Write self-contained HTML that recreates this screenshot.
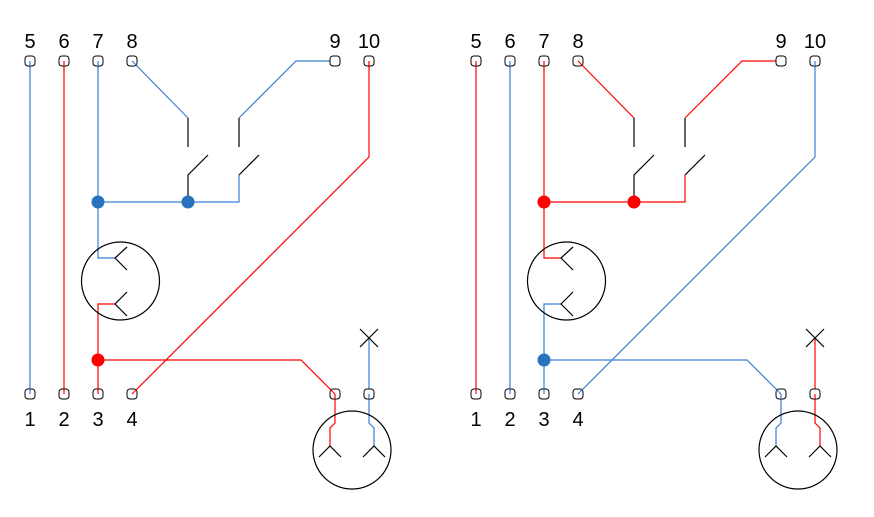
<!DOCTYPE html>
<html><head><meta charset="utf-8"><style>
body{margin:0;background:#fff}
svg{display:block}
text{font-family:"Liberation Sans",sans-serif;font-size:20px;fill:#000;text-anchor:middle}
.k{stroke:#000;fill:none;stroke-width:1.2}
.L{--a:#3a7fd0;--b:#ff0000;--da:#2a72be;--db:#ff0000}
.R{--a:#ff0000;--b:#3a7fd0;--da:#ff0000;--db:#2a72be}
.a{stroke:var(--a);fill:none;stroke-width:1.2}
.b{stroke:var(--b);fill:none;stroke-width:1.2}
.da{fill:var(--da)}.db{fill:var(--db)}
.t{fill:#fff;stroke:#000;stroke-width:1}
</style></head><body>
<svg width="874" height="517" viewBox="0 0 874 517">
<g class="L">
<path class="a" d="M30 61V394"/>
<path class="b" d="M64 61V394"/>
<path class="a" d="M98 61V258H115"/>
<path class="a" d="M98 202H239V175"/>
<path class="a" d="M132 61L188 118"/>
<path class="a" d="M335 61H296L239 118"/>
<path class="b" d="M369 61V157L132 394"/>
<path class="b" d="M98 394V304H115"/>
<path class="b" d="M98 360H301L335 394V423L330 428V446"/>
<path class="a" d="M369 338V423L374 428V446"/>
<path class="k" d="M188 118V147M239 118V147M188 202V175L208 155M239 175L259 155"/>
<circle class="da" cx="98" cy="202" r="6.5"/>
<circle class="da" cx="188" cy="202" r="6.5"/>
<circle class="db" cx="98" cy="360" r="6.5"/>
<circle class="k" cx="120.5" cy="281" r="39"/>
<path class="k" d="M127 247L115 258L127 270M127 292L115 304L127 316"/>
<circle class="k" cx="352" cy="450" r="39"/>
<path class="k" d="M319 457L330 446L341 457M363 457L374 446L385 457"/>
<path class="k" d="M360 329L378 347M378 329L360 347"/>
<g class="t">
<rect x="25" y="56" width="10" height="10" rx="3"/><rect x="59" y="56" width="10" height="10" rx="3"/><rect x="93" y="56" width="10" height="10" rx="3"/><rect x="127" y="56" width="10" height="10" rx="3"/><rect x="330" y="56" width="10" height="10" rx="3"/><rect x="364" y="56" width="10" height="10" rx="3"/>
<rect x="25" y="389" width="10" height="10" rx="3"/><rect x="59" y="389" width="10" height="10" rx="3"/><rect x="93" y="389" width="10" height="10" rx="3"/><rect x="127" y="389" width="10" height="10" rx="3"/><rect x="330" y="389" width="10" height="10" rx="3"/><rect x="364" y="389" width="10" height="10" rx="3"/>
</g>
<path class="a" d="M30 61V66M98 61V66M30 389V394"/>
<path class="b" d="M64 61V66M369 61V66M64 389V394M98 389V394"/>
<path class="a" d="M132 61L137 66M369 394V399"/>
<path class="b" d="M132 394L137 389M335 394V399M330 389L335 394"/>
<text x="30" y="48">5</text><text x="64" y="48">6</text><text x="98" y="48">7</text><text x="132" y="48">8</text><text x="335" y="48">9</text><text x="369" y="48">10</text>
<text x="30" y="426">1</text><text x="64" y="426">2</text><text x="98" y="426">3</text><text x="132" y="426">4</text>
</g>
<g class="R" transform="translate(446 0)">
<path class="a" d="M30 61V394"/>
<path class="b" d="M64 61V394"/>
<path class="a" d="M98 61V258H115"/>
<path class="a" d="M98 202H239V175"/>
<path class="a" d="M132 61L188 118"/>
<path class="a" d="M335 61H296L239 118"/>
<path class="b" d="M369 61V157L132 394"/>
<path class="b" d="M98 394V304H115"/>
<path class="b" d="M98 360H301L335 394V423L330 428V446"/>
<path class="a" d="M369 338V423L374 428V446"/>
<path class="k" d="M188 118V147M239 118V147M188 202V175L208 155M239 175L259 155"/>
<circle class="da" cx="98" cy="202" r="6.5"/>
<circle class="da" cx="188" cy="202" r="6.5"/>
<circle class="db" cx="98" cy="360" r="6.5"/>
<circle class="k" cx="120.5" cy="281" r="39"/>
<path class="k" d="M127 247L115 258L127 270M127 292L115 304L127 316"/>
<circle class="k" cx="352" cy="450" r="39"/>
<path class="k" d="M319 457L330 446L341 457M363 457L374 446L385 457"/>
<path class="k" d="M360 329L378 347M378 329L360 347"/>
<g class="t">
<rect x="25" y="56" width="10" height="10" rx="3"/><rect x="59" y="56" width="10" height="10" rx="3"/><rect x="93" y="56" width="10" height="10" rx="3"/><rect x="127" y="56" width="10" height="10" rx="3"/><rect x="330" y="56" width="10" height="10" rx="3"/><rect x="364" y="56" width="10" height="10" rx="3"/>
<rect x="25" y="389" width="10" height="10" rx="3"/><rect x="59" y="389" width="10" height="10" rx="3"/><rect x="93" y="389" width="10" height="10" rx="3"/><rect x="127" y="389" width="10" height="10" rx="3"/><rect x="330" y="389" width="10" height="10" rx="3"/><rect x="364" y="389" width="10" height="10" rx="3"/>
</g>
<path class="a" d="M30 61V66M98 61V66M30 389V394"/>
<path class="b" d="M64 61V66M369 61V66M64 389V394M98 389V394"/>
<path class="a" d="M132 61L137 66M369 394V399"/>
<path class="b" d="M132 394L137 389M335 394V399M330 389L335 394"/>
<text x="30" y="48">5</text><text x="64" y="48">6</text><text x="98" y="48">7</text><text x="132" y="48">8</text><text x="335" y="48">9</text><text x="369" y="48">10</text>
<text x="30" y="426">1</text><text x="64" y="426">2</text><text x="98" y="426">3</text><text x="132" y="426">4</text>
</g>
</svg>
</body></html>
